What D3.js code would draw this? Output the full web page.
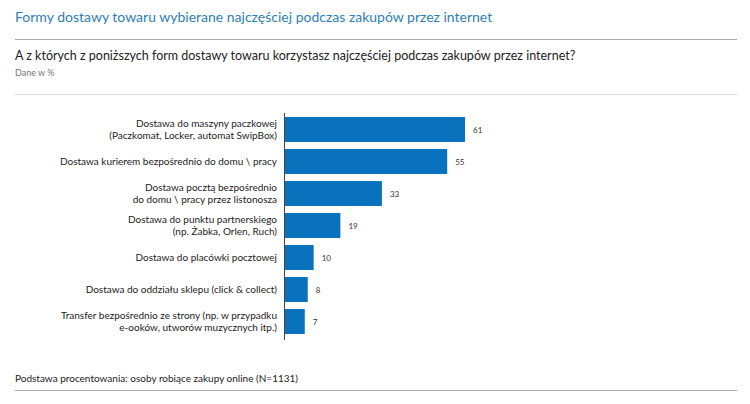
<!DOCTYPE html><html><head><meta charset="utf-8"><script src="https://cdn.jsdelivr.net/npm/d3@7"></script>
<style>body{margin:0;background:#fff}svg{font-family:Lato,sans-serif}</style></head><body><svg id="c" width="750" height="404"></svg>
<script>
const categories=[["Dostawa do maszyny paczkowej","(Paczkomat, Locker, automat SwipBox)"],["Dostawa kurierem bezpośrednio do domu \\ pracy"],["Dostawa pocztą bezpośrednio","do domu \\ pracy przez listonosza"],["Dostawa do punktu partnerskiego","(np. Żabka, Orlen, Ruch)"],["Dostawa do placówki pocztowej"],["Dostawa do oddziału sklepu (click & collect)"],["Transfer bezpośrednio ze strony (np. w przypadku","e-ooków, utworów muzycznych itp.)"]];
const values=[61,55,33,19,10,8,7];
const svg=d3.select("#c");
svg.append("text").attr("x",15).attr("y",22).attr("fill","#2e7fb5").attr("font-size",14).text("Formy dostawy towaru wybierane najczęściej podczas zakupów przez internet");
svg.append("line").attr("x1",15).attr("x2",737).attr("y1",39.5).attr("y2",39.5).attr("stroke","#aaa");
svg.append("text").attr("x",15).attr("y",60).attr("fill","#222").attr("font-size",12.5).text("A z których z poniższych form dostawy towaru korzystasz najczęściej podczas zakupów przez internet?");
svg.append("text").attr("x",15).attr("y",76).attr("fill","#777").attr("font-size",9).text("Dane w %");
svg.append("line").attr("x1",15).attr("x2",737).attr("y1",94.5).attr("y2",94.5).attr("stroke","#ddd");
const x=d3.scaleLinear().domain([0,61]).range([284,465]);
const y=d3.scaleBand().domain(d3.range(values.length)).range([113.5,337.5]).paddingInner(0.22).paddingOuter(0.11);
svg.selectAll("rect").data(values).join("rect").attr("x",x(0)).attr("y",(d,i)=>y(i)).attr("height",y.bandwidth()).attr("width",d=>x(d)-x(0)).attr("fill","#0a72bd");
svg.selectAll(".v").data(values).join("text").attr("x",d=>x(d)+8).attr("y",(d,i)=>y(i)+y.bandwidth()/2+3).attr("font-size",8).attr("fill","#333").text(d=>d);
categories.forEach((c,i)=>{const cy=y(i)+y.bandwidth()/2;const t=svg.append("text").attr("text-anchor","end").attr("font-size",10).attr("fill","#222");
c.forEach((l,j)=>t.append("tspan").attr("x",277).attr("y",cy+3.5+(j-(c.length-1)/2)*12.5).text(l));});
svg.append("line").attr("x1",284.5).attr("x2",284.5).attr("y1",113).attr("y2",340).attr("stroke","#444");
svg.append("text").attr("x",15).attr("y",382).attr("fill","#222").attr("font-size",10).text("Podstawa procentowania: osoby robiące zakupy online (N=1131)");
svg.append("line").attr("x1",15).attr("x2",737).attr("y1",390.5).attr("y2",390.5).attr("stroke","#aaa");
</script></body></html>
